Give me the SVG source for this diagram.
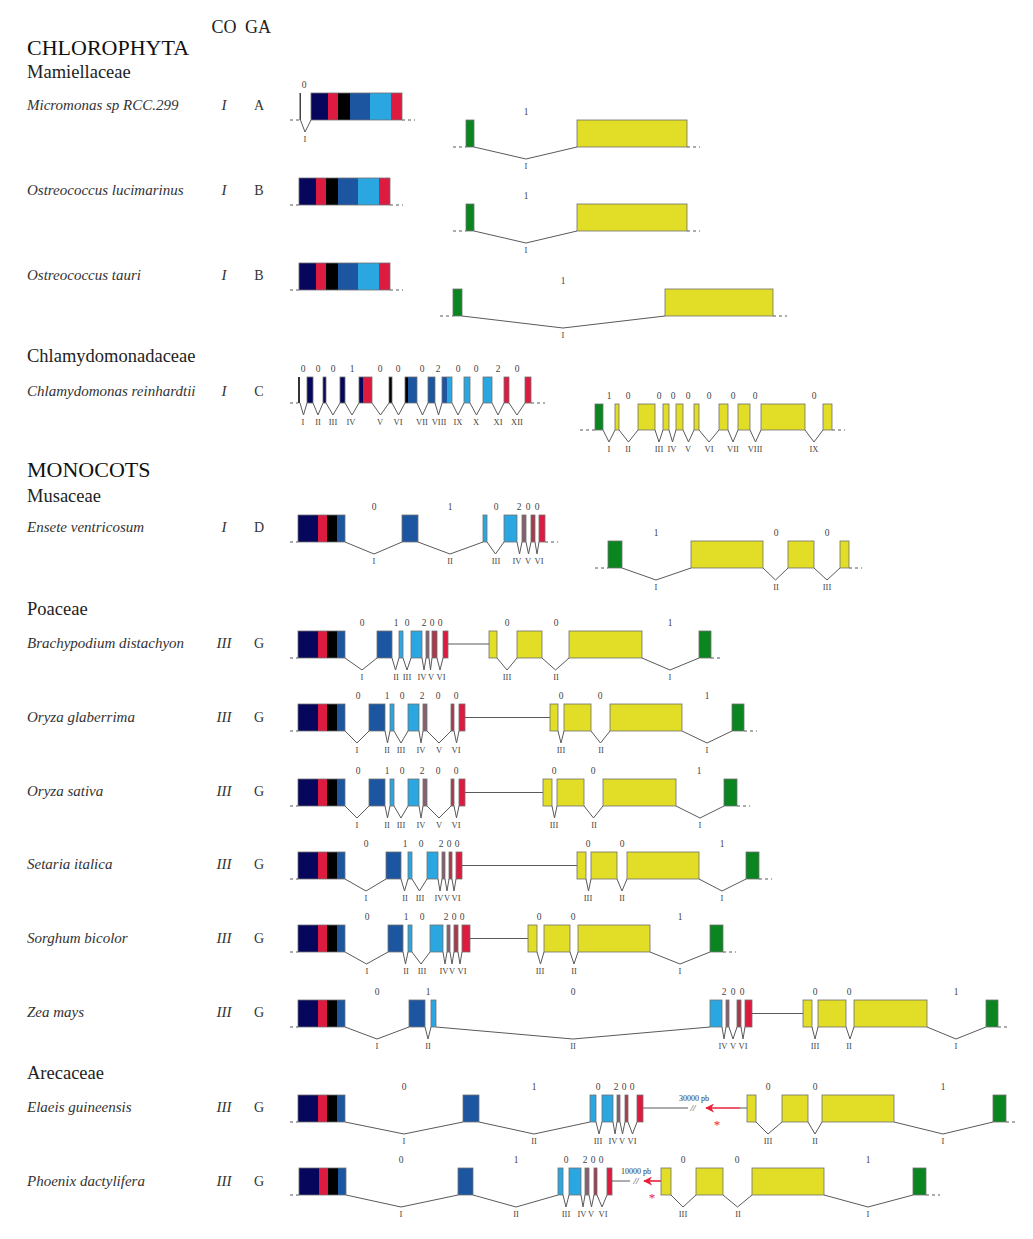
<svg xmlns="http://www.w3.org/2000/svg" xmlns:xlink="http://www.w3.org/1999/xlink" width="1033" height="1239" viewBox="0 0 1033 1239">
<style>
.nv{fill:#06065c}.rd{fill:#dd1a40}.bk{fill:#000}.bl{fill:#1d56a0}.lb{fill:#2aa6e0}.gr{fill:#0b8520}.ye{fill:#e2dd26}.mv{fill:#86606e}.br{fill:#a83a4c}
.e{stroke:#707070;stroke-width:.8}
.o{fill:none;stroke:#707070;stroke-width:.8}
.i{fill:none;stroke:#5a5a5a;stroke-width:1}
.d{stroke:#5a5a5a;stroke-width:1;stroke-dasharray:3 3}
.rl{stroke:#e8203a;stroke-width:1.6}
text{font-family:"Liberation Serif",serif}
.p{font-size:9.5px;fill:#444;text-anchor:middle}
.r{font-size:8.5px;fill:#444;text-anchor:middle}
.sp{font-size:15px;font-style:italic;fill:#333}
.co{font-size:15px;font-style:italic;fill:#333;text-anchor:middle}
.ga{font-size:14px;fill:#333;text-anchor:middle}
.h{font-size:22px;fill:#111}
.f{font-size:18.5px;fill:#222}
.ch{font-size:18px;fill:#222;text-anchor:middle}
.bp{font-size:8px;fill:#333;text-anchor:middle}
.sl{font-size:9px;font-style:italic;fill:#333;text-anchor:middle}
.as{font-size:13px;fill:#e8203a;text-anchor:middle}
</style>
<defs>
<g id="blk"><rect class="nv" x="0" width="20" height="27"/><rect class="rd" x="20" width="9" height="27"/><rect class="bk" x="29" width="10" height="27"/><rect class="bl" x="39" width="8" height="27"/><rect class="o" width="47" height="27"/></g>
<g id="mam"><rect class="nv" x="0" width="17" height="27"/><rect class="rd" x="17" width="10" height="27"/><rect class="bk" x="27" width="12" height="27"/><rect class="bl" x="39" width="20" height="27"/><rect class="lb" x="59" width="21" height="27"/><rect class="rd" x="80" width="11" height="27"/><rect class="o" width="91" height="27"/></g>
<marker id="ah" viewBox="0 0 10 10" refX="9" refY="5" markerWidth="9" markerHeight="9" markerUnits="userSpaceOnUse" orient="auto"><path d="M0,0 L10,5 L0,10 L3,5 z" fill="#e8203a"/></marker>
</defs>

<g id="headers">
<text class="ch" x="224" y="33">CO</text>
<text class="ch" x="258" y="33">GA</text>
<text class="h" x="27" y="55">CHLOROPHYTA</text>
<text class="f" x="27" y="78">Mamiellaceae</text>
<text class="f" x="27" y="362">Chlamydomonadaceae</text>
<text class="h" x="27" y="477">MONOCOTS</text>
<text class="f" x="27" y="502">Musaceae</text>
<text class="f" x="27" y="615">Poaceae</text>
<text class="f" x="27" y="1079">Arecaceae</text>
</g>

<g id="labels">
<text class="sp" x="27" y="110">Micromonas sp RCC.299</text><text class="co" x="224" y="110">I</text><text class="ga" x="259" y="110">A</text>
<text class="sp" x="27" y="195">Ostreococcus lucimarinus</text><text class="co" x="224" y="195">I</text><text class="ga" x="259" y="195">B</text>
<text class="sp" x="27" y="280">Ostreococcus tauri</text><text class="co" x="224" y="280">I</text><text class="ga" x="259" y="280">B</text>
<text class="sp" x="27" y="396">Chlamydomonas reinhardtii</text><text class="co" x="224" y="396">I</text><text class="ga" x="259" y="396">C</text>
<text class="sp" x="27" y="532">Ensete ventricosum</text><text class="co" x="224" y="532">I</text><text class="ga" x="259" y="532">D</text>
<text class="sp" x="27" y="648">Brachypodium distachyon</text><text class="co" x="224" y="648">III</text><text class="ga" x="259" y="648">G</text>
<text class="sp" x="27" y="722">Oryza glaberrima</text><text class="co" x="224" y="722">III</text><text class="ga" x="259" y="722">G</text>
<text class="sp" x="27" y="796">Oryza sativa</text><text class="co" x="224" y="796">III</text><text class="ga" x="259" y="796">G</text>
<text class="sp" x="27" y="869">Setaria italica</text><text class="co" x="224" y="869">III</text><text class="ga" x="259" y="869">G</text>
<text class="sp" x="27" y="943">Sorghum bicolor</text><text class="co" x="224" y="943">III</text><text class="ga" x="259" y="943">G</text>
<text class="sp" x="27" y="1017">Zea mays</text><text class="co" x="224" y="1017">III</text><text class="ga" x="259" y="1017">G</text>
<text class="sp" x="27" y="1112">Elaeis guineensis</text><text class="co" x="224" y="1112">III</text><text class="ga" x="259" y="1112">G</text>
<text class="sp" x="27" y="1186">Phoenix dactylifera</text><text class="co" x="224" y="1186">III</text><text class="ga" x="259" y="1186">G</text>
</g>

<g id="micromonas">
<path class="d" d="M290 120H299M402 120H415M453 147H466M687 147H700"/>
<rect x="299.5" y="93" width="1.5" height="27" fill="#444"/>
<use xlink:href="#mam" x="311" y="93"/>
<rect class="gr e" x="466" y="120" width="8" height="27"/>
<rect class="ye e" x="577" y="120" width="110" height="27"/>
<path class="i" d="M300.5 120L305 132L311 120M474 147L526 159L577 147"/>
<text class="p" x="304" y="88">0</text><text class="r" x="305" y="142">I</text>
<text class="p" x="526" y="115">1</text><text class="r" x="526" y="169">I</text>
</g>

<g id="ost-lucimarinus">
<path class="d" d="M290 205H299M390 205H403M453 231H466M687 231H700"/>
<use xlink:href="#mam" x="299" y="178"/>
<rect class="gr e" x="466" y="204" width="8" height="27"/>
<rect class="ye e" x="577" y="204" width="110" height="27"/>
<path class="i" d="M474 231L526 243L577 231"/>
<text class="p" x="526" y="199">1</text><text class="r" x="526" y="253">I</text>
</g>

<g id="ost-tauri">
<path class="d" d="M290 290H299M390 290H403M440 316H453M773 316H787"/>
<use xlink:href="#mam" x="299" y="263"/>
<rect class="gr e" x="453" y="289" width="9" height="27"/>
<rect class="ye e" x="665" y="289" width="108" height="27"/>
<path class="i" d="M462 316L563 328L665 316"/>
<text class="p" x="563" y="284">1</text><text class="r" x="563" y="338">I</text>
</g>

<g id="chlamydomonas">
<path class="d" d="M290 403H298M531 403H545M580 430H595M832 430H845"/>
<rect x="298" y="377" width="2" height="26" fill="#333"/>
<rect class="nv e" x="307" y="377" width="6" height="26"/>
<rect class="nv e" x="323" y="377" width="3" height="26"/>
<rect class="nv e" x="340" y="377" width="5" height="26"/>
<rect class="nv" x="359" y="377" width="4" height="26"/><rect class="rd" x="363" y="377" width="9" height="26"/><rect class="o" x="359" y="377" width="13" height="26"/>
<rect class="bk e" x="389" y="377" width="3" height="26"/>
<rect class="bk" x="405" y="377" width="3" height="26"/><rect class="bl" x="408" y="377" width="9" height="26"/><rect class="o" x="405" y="377" width="12" height="26"/>
<rect class="bl e" x="428" y="377" width="7" height="26"/>
<rect class="bl" x="442" y="377" width="5" height="26"/><rect class="lb" x="447" y="377" width="5" height="26"/><rect class="o" x="442" y="377" width="10" height="26"/>
<rect class="lb e" x="464" y="377" width="6" height="26"/>
<rect class="lb e" x="483" y="377" width="9" height="26"/>
<rect class="rd e" x="504" y="377" width="5" height="26"/>
<rect class="rd e" x="525" y="377" width="6" height="26"/>
<path class="i" d="M300 403L303.5 415L307 403M313 403L318 415L323 403M326 403L333 415L340 403M345 403L352 415L359 403M372 403L380.5 415L389 403M392 403L398.5 415L405 403M417 403L422.5 415L428 403M435 403L438.5 415L442 403M452 403L458 415L464 403M470 403L476.5 415L483 403M492 403L498 415L504 403M509 403L517 415L525 403"/>
<rect class="gr e" x="595" y="404" width="8" height="26"/>
<rect class="ye e" x="615" y="404" width="4" height="26"/>
<rect class="ye e" x="638" y="404" width="17" height="26"/>
<rect class="ye e" x="663" y="404" width="6" height="26"/>
<rect class="ye e" x="676" y="404" width="7" height="26"/>
<rect class="ye e" x="694" y="404" width="5" height="26"/>
<rect class="ye e" x="719" y="404" width="9" height="26"/>
<rect class="ye e" x="738" y="404" width="12" height="26"/>
<rect class="ye e" x="761" y="404" width="44" height="26"/>
<rect class="ye e" x="823" y="404" width="9" height="26"/>
<path class="i" d="M603 430L609 442L615 430M619 430L628.5 442L638 430M655 430L659 442L663 430M669 430L672.5 442L676 430M683 430L688.5 442L694 430M699 430L709 442L719 430M728 430L733 442L738 430M750 430L755.5 442L761 430M805 430L814 442L823 430"/>
<g class="p">
<text x="303" y="372">0</text><text x="318" y="372">0</text><text x="333" y="372">0</text><text x="352" y="372">1</text><text x="380" y="372">0</text><text x="398" y="372">0</text><text x="422" y="372">0</text><text x="438" y="372">2</text><text x="458" y="372">0</text><text x="476" y="372">0</text><text x="498" y="372">2</text><text x="517" y="372">0</text>
<text x="609" y="399">1</text><text x="628" y="399">0</text><text x="659" y="399">0</text><text x="673" y="399">0</text><text x="688" y="399">0</text><text x="709" y="399">0</text><text x="733" y="399">0</text><text x="755" y="399">0</text><text x="814" y="399">0</text>
</g>
<g class="r">
<text x="303" y="425">I</text><text x="318" y="425">II</text><text x="333" y="425">III</text><text x="351" y="425">IV</text><text x="380" y="425">V</text><text x="398" y="425">VI</text><text x="422" y="425">VII</text><text x="439" y="425">VIII</text><text x="458" y="425">IX</text><text x="476" y="425">X</text><text x="498" y="425">XI</text><text x="517" y="425">XII</text>
<text x="609" y="452">I</text><text x="628" y="452">II</text><text x="659" y="452">III</text><text x="672" y="452">IV</text><text x="688" y="452">V</text><text x="709" y="452">VI</text><text x="733" y="452">VII</text><text x="755" y="452">VIII</text><text x="814" y="452">IX</text>
</g>
</g>

<g id="ensete">
<path class="d" d="M290 542H298M545 542H558M595 568H608M849 568H862"/>
<use xlink:href="#blk" x="298" y="515"/>
<rect class="bl e" x="402" y="515" width="16" height="27"/>
<rect class="lb e" x="483" y="515" width="4" height="27"/>
<rect class="lb e" x="504" y="515" width="13" height="27"/>
<rect class="mv e" x="522" y="515" width="4" height="27"/>
<rect class="br e" x="531" y="515" width="4" height="27"/>
<rect class="rd e" x="539" y="515" width="6" height="27"/>
<path class="i" d="M345 542L374 554L402 542M418 542L450 554L483 542M487 542L495.5 554L504 542M517 542L519.5 554L522 542M526 542L528.5 554L531 542M535 542L537 554L539 542"/>
<rect class="gr e" x="608" y="541" width="14" height="27"/>
<rect class="ye e" x="691" y="541" width="72" height="27"/>
<rect class="ye e" x="788" y="541" width="26" height="27"/>
<rect class="ye e" x="840" y="541" width="9" height="27"/>
<path class="i" d="M622 568L656 580L691 568M763 568L775.5 580L788 568M814 568L827 580L840 568"/>
<g class="p"><text x="374" y="510">0</text><text x="450" y="510">1</text><text x="496" y="510">0</text><text x="519" y="510">2</text><text x="528" y="510">0</text><text x="537" y="510">0</text>
<text x="656" y="536">1</text><text x="776" y="536">0</text><text x="827" y="536">0</text></g>
<g class="r"><text x="374" y="564">I</text><text x="450" y="564">II</text><text x="496" y="564">III</text><text x="517" y="564">IV</text><text x="528" y="564">V</text><text x="539" y="564">VI</text>
<text x="656" y="590">I</text><text x="776" y="590">II</text><text x="827" y="590">III</text></g>
</g>

<g id="brachypodium">
<path class="d" d="M290 658H298M711 658H720"/>
<use xlink:href="#blk" x="298" y="631"/>
<rect class="bl e" x="377" y="631" width="15" height="27"/>
<rect class="lb e" x="399" y="631" width="4" height="27"/>
<rect class="lb e" x="411" y="631" width="11" height="27"/>
<rect class="mv e" x="426" y="631" width="3" height="27"/>
<rect class="br e" x="432" y="631" width="5" height="27"/>
<rect class="rd e" x="443" y="631" width="5" height="27"/>
<path class="i" d="M448 644H489"/>
<rect class="ye e" x="489" y="631" width="8" height="27"/>
<rect class="ye e" x="517" y="631" width="25" height="27"/>
<rect class="ye e" x="569" y="631" width="73" height="27"/>
<rect class="gr e" x="699" y="631" width="12" height="27"/>
<path class="i" d="M345 658L362 670L377 658M392 658L395.5 670L399 658M403 658L407 670L411 658M422 658L424 670L426 658M429 658L430.5 670L432 658M437 658L440 670L443 658M497 658L507 670L517 658M542 658L555.5 670L569 658M642 658L670 670L699 658"/>
<g class="p"><text x="362" y="626">0</text><text x="396" y="626">1</text><text x="407" y="626">0</text><text x="424" y="626">2</text><text x="432" y="626">0</text><text x="440" y="626">0</text><text x="507" y="626">0</text><text x="556" y="626">0</text><text x="670" y="626">1</text></g>
<g class="r"><text x="362" y="680">I</text><text x="396" y="680">II</text><text x="407" y="680">III</text><text x="422" y="680">IV</text><text x="431" y="680">V</text><text x="441" y="680">VI</text><text x="507" y="680">III</text><text x="556" y="680">II</text><text x="670" y="680">I</text></g>
</g>

<g id="oryza-glaberrima">
<path class="d" d="M290 731H298M744 731H757"/>
<use xlink:href="#blk" x="298" y="704"/>
<rect class="bl e" x="369" y="704" width="16" height="27"/>
<rect class="lb e" x="390" y="704" width="4" height="27"/>
<rect class="lb e" x="408" y="704" width="11" height="27"/>
<rect class="mv e" x="423" y="704" width="4" height="27"/>
<rect class="br e" x="451" y="704" width="3" height="27"/>
<rect class="rd e" x="459" y="704" width="6" height="27"/>
<path class="i" d="M465 717.5H550"/>
<rect class="ye e" x="550" y="704" width="8" height="27"/>
<rect class="ye e" x="564" y="704" width="27" height="27"/>
<rect class="ye e" x="610" y="704" width="72" height="27"/>
<rect class="gr e" x="732" y="704" width="12" height="27"/>
<path class="i" d="M345 731L357 743L369 731M385 731L387.5 743L390 731M394 731L401 743L408 731M419 731L421 743L423 731M427 731L439 743L451 731M454 731L456.5 743L459 731M558 731L561 743L564 731M591 731L600.5 743L610 731M682 731L707 743L732 731"/>
<g class="p"><text x="358" y="699">0</text><text x="387" y="699">1</text><text x="402" y="699">0</text><text x="422" y="699">2</text><text x="438" y="699">0</text><text x="456" y="699">0</text><text x="561" y="699">0</text><text x="600" y="699">0</text><text x="707" y="699">1</text></g>
<g class="r"><text x="357" y="753">I</text><text x="387" y="753">II</text><text x="401" y="753">III</text><text x="421" y="753">IV</text><text x="439" y="753">V</text><text x="456" y="753">VI</text><text x="561" y="753">III</text><text x="601" y="753">II</text><text x="707" y="753">I</text></g>
</g>

<g id="oryza-sativa">
<path class="d" d="M290 806H298M737 806H750"/>
<use xlink:href="#blk" x="298" y="779"/>
<rect class="bl e" x="369" y="779" width="16" height="27"/>
<rect class="lb e" x="390" y="779" width="4" height="27"/>
<rect class="lb e" x="408" y="779" width="11" height="27"/>
<rect class="mv e" x="423" y="779" width="4" height="27"/>
<rect class="br e" x="451" y="779" width="3" height="27"/>
<rect class="rd e" x="459" y="779" width="6" height="27"/>
<path class="i" d="M465 792.5H543"/>
<rect class="ye e" x="543" y="779" width="9" height="27"/>
<rect class="ye e" x="557" y="779" width="27" height="27"/>
<rect class="ye e" x="603" y="779" width="73" height="27"/>
<rect class="gr e" x="724" y="779" width="13" height="27"/>
<path class="i" d="M345 806L357 818L369 806M385 806L387.5 818L390 806M394 806L401 818L408 806M419 806L421 818L423 806M427 806L439 818L451 806M454 806L456.5 818L459 806M552 806L554.5 818L557 806M584 806L593.5 818L603 806M676 806L700 818L724 806"/>
<g class="p"><text x="358" y="774">0</text><text x="387" y="774">1</text><text x="402" y="774">0</text><text x="422" y="774">2</text><text x="438" y="774">0</text><text x="456" y="774">0</text><text x="554" y="774">0</text><text x="593" y="774">0</text><text x="699" y="774">1</text></g>
<g class="r"><text x="357" y="828">I</text><text x="387" y="828">II</text><text x="401" y="828">III</text><text x="421" y="828">IV</text><text x="439" y="828">V</text><text x="456" y="828">VI</text><text x="554" y="828">III</text><text x="594" y="828">II</text><text x="700" y="828">I</text></g>
</g>

<g id="setaria">
<path class="d" d="M290 879H298M759 879H772"/>
<use xlink:href="#blk" x="298" y="852"/>
<rect class="bl e" x="386" y="852" width="15" height="27"/>
<rect class="lb e" x="408" y="852" width="4" height="27"/>
<rect class="lb e" x="427" y="852" width="11" height="27"/>
<rect class="mv e" x="442" y="852" width="3" height="27"/>
<rect class="br e" x="449" y="852" width="3" height="27"/>
<rect class="rd e" x="456" y="852" width="6" height="27"/>
<path class="i" d="M462 865.5H577"/>
<rect class="ye e" x="577" y="852" width="9" height="27"/>
<rect class="ye e" x="591" y="852" width="26" height="27"/>
<rect class="ye e" x="627" y="852" width="72" height="27"/>
<rect class="gr e" x="746" y="852" width="13" height="27"/>
<path class="i" d="M345 879L366 891L386 879M401 879L404.5 891L408 879M412 879L419.5 891L427 879M438 879L440 891L442 879M445 879L447 891L449 879M452 879L454 891L456 879M586 879L588.5 891L591 879M617 879L622 891L627 879M699 879L722 891L746 879"/>
<g class="p"><text x="366" y="847">0</text><text x="405" y="847">1</text><text x="421" y="847">0</text><text x="441" y="847">2</text><text x="449" y="847">0</text><text x="457" y="847">0</text><text x="588" y="847">0</text><text x="622" y="847">0</text><text x="722" y="847">1</text></g>
<g class="r"><text x="366" y="901">I</text><text x="405" y="901">II</text><text x="420" y="901">III</text><text x="439" y="901">IV</text><text x="447" y="901">V</text><text x="456" y="901">VI</text><text x="588" y="901">III</text><text x="622" y="901">II</text><text x="722" y="901">I</text></g>
</g>

<g id="sorghum">
<path class="d" d="M290 952H298M723 952H736"/>
<use xlink:href="#blk" x="298" y="925"/>
<rect class="bl e" x="388" y="925" width="15" height="27"/>
<rect class="lb e" x="408" y="925" width="4" height="27"/>
<rect class="lb e" x="430" y="925" width="13" height="27"/>
<rect class="mv e" x="447" y="925" width="3" height="27"/>
<rect class="br e" x="454" y="925" width="4" height="27"/>
<rect class="rd e" x="462" y="925" width="8" height="27"/>
<path class="i" d="M470 938.5H528"/>
<rect class="ye e" x="528" y="925" width="9" height="27"/>
<rect class="ye e" x="544" y="925" width="26" height="27"/>
<rect class="ye e" x="578" y="925" width="72" height="27"/>
<rect class="gr e" x="710" y="925" width="13" height="27"/>
<path class="i" d="M345 952L366.5 964L388 952M403 952L405.5 964L408 952M412 952L421 964L430 952M443 952L445 964L447 952M450 952L452 964L454 952M458 952L460 964L462 952M537 952L540.5 964L544 952M570 952L574 964L578 952M650 952L680 964L710 952"/>
<g class="p"><text x="367" y="920">0</text><text x="406" y="920">1</text><text x="422" y="920">0</text><text x="446" y="920">2</text><text x="454" y="920">0</text><text x="462" y="920">0</text><text x="539" y="920">0</text><text x="573" y="920">0</text><text x="680" y="920">1</text></g>
<g class="r"><text x="367" y="974">I</text><text x="406" y="974">II</text><text x="422" y="974">III</text><text x="444" y="974">IV</text><text x="452" y="974">V</text><text x="462" y="974">VI</text><text x="540" y="974">III</text><text x="574" y="974">II</text><text x="680" y="974">I</text></g>
</g>

<g id="zea">
<path class="d" d="M290 1027H298M998 1027H1010"/>
<use xlink:href="#blk" x="298" y="1000"/>
<rect class="bl e" x="409" y="1000" width="16" height="27"/>
<rect class="lb e" x="431" y="1000" width="5" height="27"/>
<rect class="lb e" x="710" y="1000" width="12" height="27"/>
<rect class="mv e" x="726" y="1000" width="3" height="27"/>
<rect class="br e" x="737" y="1000" width="4" height="27"/>
<rect class="rd e" x="745" y="1000" width="7" height="27"/>
<path class="i" d="M752 1013.5H803"/>
<rect class="ye e" x="803" y="1000" width="9" height="27"/>
<rect class="ye e" x="818" y="1000" width="28" height="27"/>
<rect class="ye e" x="854" y="1000" width="73" height="27"/>
<rect class="gr e" x="986" y="1000" width="12" height="27"/>
<path class="i" d="M345 1027L377 1039L409 1027M425 1027L428 1039L431 1027M436 1027L573 1039L710 1027M722 1027L724 1039L726 1027M729 1027L733 1039L737 1027M741 1027L743 1039L745 1027M812 1027L815 1039L818 1027M846 1027L850 1039L854 1027M927 1027L956 1039L986 1027"/>
<g class="p"><text x="377" y="995">0</text><text x="428" y="995">1</text><text x="573" y="995">0</text><text x="724" y="995">2</text><text x="733" y="995">0</text><text x="742" y="995">0</text><text x="815" y="995">0</text><text x="849" y="995">0</text><text x="956" y="995">1</text></g>
<g class="r"><text x="377" y="1049">I</text><text x="428" y="1049">II</text><text x="573" y="1049">II</text><text x="723" y="1049">IV</text><text x="733" y="1049">V</text><text x="743" y="1049">VI</text><text x="815" y="1049">III</text><text x="849" y="1049">II</text><text x="956" y="1049">I</text></g>
</g>

<g id="elaeis">
<path class="d" d="M290 1122H298M1006 1122H1018"/>
<use xlink:href="#blk" x="298" y="1095"/>
<rect class="bl e" x="463" y="1095" width="16" height="27"/>
<rect class="lb e" x="590" y="1095" width="6" height="27"/>
<rect class="lb e" x="602" y="1095" width="11" height="27"/>
<rect class="mv e" x="617" y="1095" width="3" height="27"/>
<rect class="br e" x="625" y="1095" width="3" height="27"/>
<rect class="rd e" x="637" y="1095" width="6" height="27"/>
<path class="i" d="M643 1108H688M740 1108H747"/>
<text class="sl" x="693" y="1111">//</text>
<line class="rl" x1="740" y1="1108" x2="706" y2="1108" marker-end="url(#ah)"/>
<text class="bp" x="694" y="1101">30000 pb</text>
<text class="as" x="717" y="1129">*</text>
<rect class="ye e" x="747" y="1095" width="9" height="27"/>
<rect class="ye e" x="782" y="1095" width="26" height="27"/>
<rect class="ye e" x="822" y="1095" width="72" height="27"/>
<rect class="gr e" x="993" y="1095" width="13" height="27"/>
<path class="i" d="M345 1122L404 1134L463 1122M479 1122L534 1134L590 1122M596 1122L599 1134L602 1122M613 1122L615 1134L617 1122M620 1122L622.5 1134L625 1122M628 1122L632.5 1134L637 1122M756 1122L768 1134L782 1122M808 1122L815 1134L822 1122M894 1122L943 1134L993 1122"/>
<g class="p"><text x="404" y="1090">0</text><text x="534" y="1090">1</text><text x="598" y="1090">0</text><text x="616" y="1090">2</text><text x="624" y="1090">0</text><text x="632" y="1090">0</text><text x="768" y="1090">0</text><text x="815" y="1090">0</text><text x="943" y="1090">1</text></g>
<g class="r"><text x="404" y="1144">I</text><text x="534" y="1144">II</text><text x="598" y="1144">III</text><text x="613" y="1144">IV</text><text x="622" y="1144">V</text><text x="632" y="1144">VI</text><text x="768" y="1144">III</text><text x="815" y="1144">II</text><text x="943" y="1144">I</text></g>
</g>

<g id="phoenix">
<path class="d" d="M290 1195H299M926 1195H940"/>
<use xlink:href="#blk" x="299" y="1168"/>
<rect class="bl e" x="458" y="1168" width="15" height="27"/>
<rect class="lb e" x="558" y="1168" width="5" height="27"/>
<rect class="lb e" x="569" y="1168" width="12" height="27"/>
<rect class="mv e" x="585" y="1168" width="4" height="27"/>
<rect class="br e" x="594" y="1168" width="3" height="27"/>
<rect class="rd e" x="607" y="1168" width="5" height="27"/>
<path class="i" d="M612 1181H630"/>
<text class="sl" x="636" y="1184">//</text>
<line class="rl" x1="661" y1="1181" x2="644" y2="1181" marker-end="url(#ah)"/>
<text class="bp" x="636" y="1174">10000 pb</text>
<text class="as" x="652" y="1202">*</text>
<rect class="ye e" x="661" y="1168" width="10" height="27"/>
<rect class="ye e" x="696" y="1168" width="27" height="27"/>
<rect class="ye e" x="752" y="1168" width="72" height="27"/>
<rect class="gr e" x="913" y="1168" width="13" height="27"/>
<path class="i" d="M346 1195L401 1207L458 1195M473 1195L516 1207L558 1195M563 1195L566 1207L569 1195M581 1195L583 1207L585 1195M589 1195L591.5 1207L594 1195M597 1195L602 1207L607 1195M671 1195L683 1207L696 1195M723 1195L737.5 1207L752 1195M824 1195L868 1207L913 1195"/>
<g class="p"><text x="401" y="1163">0</text><text x="516" y="1163">1</text><text x="566" y="1163">0</text><text x="585" y="1163">2</text><text x="593" y="1163">0</text><text x="601" y="1163">0</text><text x="683" y="1163">0</text><text x="737" y="1163">0</text><text x="868" y="1163">1</text></g>
<g class="r"><text x="401" y="1217">I</text><text x="516" y="1217">II</text><text x="566" y="1217">III</text><text x="582" y="1217">IV</text><text x="591" y="1217">V</text><text x="603" y="1217">VI</text><text x="683" y="1217">III</text><text x="738" y="1217">II</text><text x="868" y="1217">I</text></g>
</g>
</svg>
